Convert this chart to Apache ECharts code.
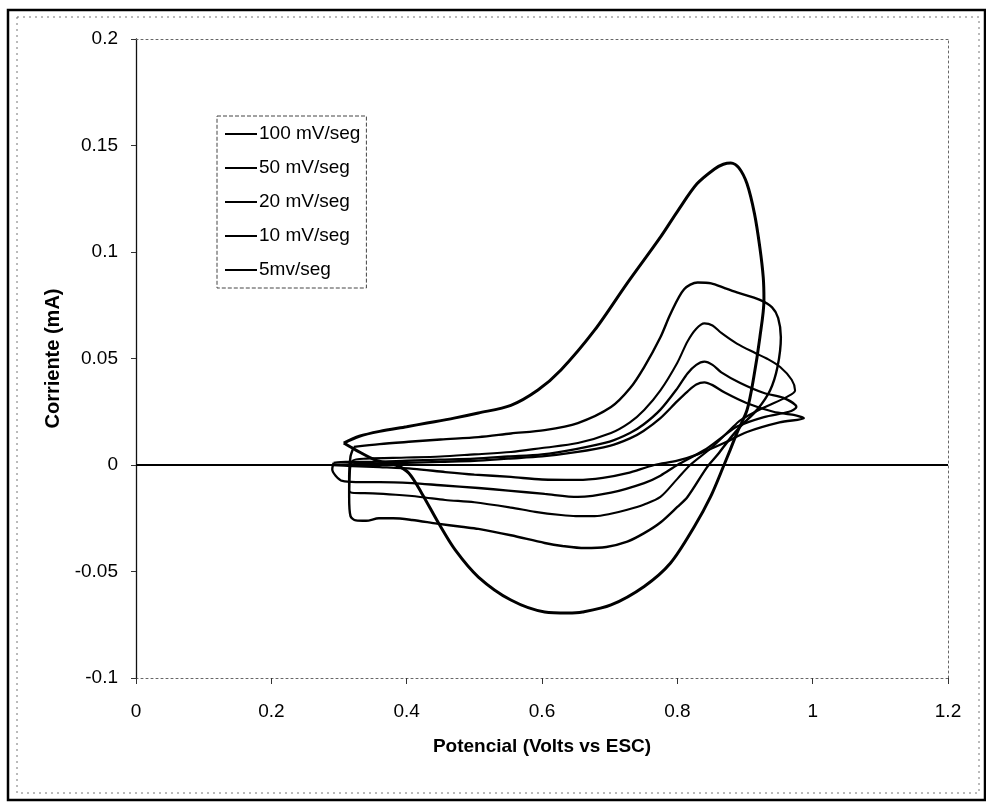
<!DOCTYPE html>
<html>
<head>
<meta charset="utf-8">
<title>Voltametría cíclica</title>
<script src="https://cdn.jsdelivr.net/npm/echarts@6/dist/echarts.min.js"></script>
<style>
  html, body { margin: 0; padding: 0; background: #fff; }
  #chart { width: 986px; height: 804px; }
</style>
</head>
<body>
<div id="chart"></div>
<script>
// Cyclic voltammograms at five scan rates: potential (V vs ESC) and current (mA)
const seriesNames = ['100 mV/seg', '50 mV/seg', '20 mV/seg', '10 mV/seg', '5mv/seg'];

const potential100 = [0.307, 0.33, 0.36, 0.40, 0.43, 0.47, 0.506, 0.554, 0.594, 0.628, 0.678, 0.726, 0.775, 0.80, 0.829, 0.855, 0.868, 0.879, 0.891, 0.903, 0.914, 0.922, 0.927, 0.928,
  0.922, 0.913, 0.903, 0.888, 0.878, 0.869, 0.849, 0.825, 0.79, 0.751, 0.702, 0.66, 0.638, 0.604, 0.554, 0.506, 0.472, 0.447, 0.422, 0.403, 0.384, 0.354, 0.325, 0.307];
const current100 = [0.0103, 0.0135, 0.0158, 0.018, 0.0197, 0.022, 0.0244, 0.028, 0.0352, 0.0446, 0.0634, 0.0854, 0.107, 0.119, 0.132, 0.139, 0.1412, 0.1418, 0.1395, 0.132, 0.118, 0.102, 0.088, 0.0775,
  0.060, 0.0413, 0.0258, 0.015, 0.007, 0.0, -0.015, -0.029, -0.046, -0.057, -0.0657, -0.069, -0.0695, -0.069, -0.0634, -0.0526, -0.040, -0.0272, -0.0131, -0.0038, 0.0, 0.0023, 0.007, 0.0103];

const potential50 = [0.322, 0.36, 0.408, 0.45, 0.506, 0.554, 0.604, 0.653, 0.702, 0.73, 0.751, 0.775, 0.79, 0.81, 0.83, 0.85, 0.87, 0.888, 0.922, 0.94, 0.949, 0.953, 0.948, 0.937, 0.918, 0.893, 0.878, 0.86, 0.844, 0.815, 0.80, 0.775, 0.751, 0.726, 0.695, 0.663, 0.63, 0.604, 0.554, 0.506, 0.481, 0.445, 0.408, 0.38, 0.359, 0.34, 0.325, 0.317, 0.315, 0.315, 0.317, 0.322];
const current50 = [0.0085, 0.0098, 0.011, 0.012, 0.0131, 0.0148, 0.0164, 0.0197, 0.0272, 0.036, 0.046, 0.060, 0.071, 0.0825, 0.0857, 0.0853, 0.083, 0.081, 0.0775, 0.074, 0.069, 0.060, 0.046, 0.035, 0.026, 0.018, 0.0125, 0.005, -0.001, -0.015, -0.0197, -0.027, -0.032, -0.036, -0.0385, -0.039, -0.038, -0.0366, -0.033, -0.030, -0.029, -0.0275, -0.0258, -0.025, -0.025, -0.0262, -0.026, -0.024, -0.015, -0.005, 0.004, 0.0085];

const potential20 = [0.316, 0.32, 0.34, 0.40, 0.45, 0.50, 0.554, 0.60, 0.653, 0.702, 0.73, 0.751, 0.775, 0.80, 0.815, 0.828, 0.84, 0.852, 0.865, 0.888, 0.915, 0.932, 0.952, 0.969, 0.974, 0.962, 0.928, 0.893, 0.878, 0.85, 0.819, 0.80, 0.775, 0.751, 0.726, 0.70, 0.678, 0.65, 0.628, 0.59, 0.554, 0.50, 0.457, 0.42, 0.384, 0.35, 0.319, 0.315, 0.316];
const current20 = [-0.004, 0.002, 0.003, 0.0035, 0.004, 0.005, 0.0061, 0.008, 0.0103, 0.015, 0.020, 0.0258, 0.035, 0.048, 0.058, 0.064, 0.0665, 0.0655, 0.062, 0.057, 0.0526, 0.050, 0.046, 0.040, 0.035, 0.032, 0.027, 0.021, 0.0165, 0.008, 0.0, -0.0065, -0.015, -0.0185, -0.021, -0.023, -0.024, -0.024, -0.0235, -0.022, -0.020, -0.0175, -0.0164, -0.015, -0.014, -0.0133, -0.013, -0.012, -0.004];

const potential10 = [0.292, 0.31, 0.35, 0.40, 0.45, 0.50, 0.55, 0.60, 0.65, 0.70, 0.73, 0.75, 0.775, 0.80, 0.815, 0.828, 0.84, 0.852, 0.865, 0.893, 0.928, 0.957, 0.976, 0.965, 0.928, 0.888, 0.87, 0.84, 0.80, 0.775, 0.751, 0.702, 0.653, 0.604, 0.55, 0.506, 0.45, 0.408, 0.36, 0.325, 0.305, 0.295, 0.29, 0.292];
const current10 = [0.001, 0.0015, 0.0015, 0.002, 0.0025, 0.003, 0.004, 0.005, 0.0075, 0.011, 0.015, 0.019, 0.026, 0.036, 0.043, 0.047, 0.0485, 0.047, 0.0435, 0.0385, 0.0338, 0.0315, 0.0272, 0.025, 0.0225, 0.018, 0.014, 0.007, 0.0, -0.005, -0.0085, -0.013, -0.015, -0.0136, -0.012, -0.0108, -0.0095, -0.0085, -0.008, -0.008, -0.0075, -0.005, -0.002, 0.001];

const potential5 = [0.29, 0.33, 0.40, 0.45, 0.50, 0.55, 0.60, 0.65, 0.70, 0.73, 0.75, 0.775, 0.80, 0.815, 0.828, 0.84, 0.852, 0.87, 0.903, 0.942, 0.972, 0.987, 0.951, 0.903, 0.869, 0.83, 0.80, 0.766, 0.726, 0.69, 0.653, 0.60, 0.554, 0.50, 0.457, 0.41, 0.36, 0.32, 0.29];
const current5 = [0.0, 0.0005, 0.001, 0.0015, 0.002, 0.003, 0.004, 0.006, 0.009, 0.0125, 0.016, 0.022, 0.030, 0.0345, 0.0378, 0.0388, 0.0375, 0.034, 0.029, 0.025, 0.0235, 0.022, 0.020, 0.0155, 0.0103, 0.005, 0.002, 0.0, -0.0038, -0.006, -0.007, -0.0068, -0.0056, -0.0045, -0.0033, -0.0018, -0.001, -0.0005, 0.0];

// Axis ranges and ticks
const xMin = 0, xMax = 1.2, xStep = 0.2;
const yMin = -0.1, yMax = 0.2, yStep = 0.05;

const FONT = "'Liberation Sans', Arial, sans-serif";

function zip(xs, ys) {
  return xs.map((x, i) => [x, ys[i]]);
}

const curves = [
  { name: seriesNames[0], x: potential100, y: current100, width: 3.0 },
  { name: seriesNames[1], x: potential50, y: current50, width: 2.4 },
  { name: seriesNames[2], x: potential20, y: current20, width: 2.1 },
  { name: seriesNames[3], x: potential10, y: current10, width: 2.3 },
  { name: seriesNames[4], x: potential5, y: current5, width: 2.3 }
];

const series = curves.map((c) => ({
  name: c.name,
  type: 'line',
  data: zip(c.x, c.y),
  symbol: 'none',
  smooth: 0.3,
  clip: true,
  color: '#000',
  lineStyle: { color: '#000', width: c.width },
  z: 3
}));

// horizontal reference line at zero current
series[0].markLine = {
  silent: true,
  symbol: 'none',
  label: { show: false },
  lineStyle: { color: '#000', width: 1.8, type: 'solid' },
  data: [{ yAxis: 0 }],
  animation: false
};

const chart = echarts.init(document.getElementById('chart'), null, { renderer: 'canvas' });

chart.setOption({
  animation: false,
  backgroundColor: '#fff',
  textStyle: { fontFamily: FONT },
  grid: { left: 136, right: 38, top: 39, bottom: 126, containLabel: false },
  graphic: [
    { type: 'rect', shape: { x: 8, y: 10, width: 977, height: 790 },
      style: { fill: 'none', stroke: '#000', lineWidth: 2.5 }, silent: true },
    { type: 'rect', shape: { x: 17, y: 17, width: 962, height: 776 },
      style: { fill: 'none', stroke: '#777', lineWidth: 1, lineDash: [2, 4] }, silent: true }
  ],
  legend: {
    orient: 'vertical',
    left: 217,
    top: 116,
    padding: [8, 6, 8, 8],
    icon: 'rect',
    itemWidth: 32,
    itemHeight: 2,
    itemGap: 14,
    borderColor: '#444',
    borderWidth: 1,
    borderType: 'dashed',
    backgroundColor: '#fff',
    data: seriesNames,
    itemStyle: { color: '#000' },
    textStyle: { fontSize: 19, color: '#000', fontFamily: FONT, lineHeight: 20, padding: [0, 0, 0, -3] }
  },
  xAxis: [
    {
      type: 'value', min: xMin, max: xMax, interval: xStep,
      name: 'Potencial (Volts vs ESC)',
      nameLocation: 'middle',
      nameGap: 59,
      nameTextStyle: { fontSize: 19, fontWeight: 'bold', color: '#000', fontFamily: FONT },
      axisLine: { onZero: false, lineStyle: { color: '#666', width: 1, type: [2, 3] } },
      axisTick: { show: true, inside: false, length: 6, lineStyle: { color: '#333' } },
      axisLabel: { fontSize: 19, color: '#000', margin: 24, fontFamily: FONT },
      splitLine: { show: false }
    },
    {
      type: 'value', min: xMin, max: xMax, position: 'top',
      axisLine: { onZero: false, lineStyle: { color: '#666', width: 1, type: [2, 3] } },
      axisTick: { show: false }, axisLabel: { show: false }, splitLine: { show: false }
    }
  ],
  yAxis: [
    {
      type: 'value', min: yMin, max: yMax, interval: yStep,
      name: 'Corriente (mA)',
      nameLocation: 'middle',
      nameGap: 72,
      nameTextStyle: { fontSize: 20, fontWeight: 'bold', color: '#000', fontFamily: FONT },
      axisLine: { show: true, onZero: false, lineStyle: { color: '#111', width: 1.3 } },
      axisTick: { show: true, inside: false, length: 5, lineStyle: { color: '#333' } },
      axisLabel: { fontSize: 19, color: '#000', margin: 18, fontFamily: FONT },
      splitLine: { show: false }
    },
    {
      type: 'value', min: yMin, max: yMax, position: 'right',
      axisLine: { show: true, onZero: false, lineStyle: { color: '#666', width: 1, type: [2, 3] } },
      axisTick: { show: false }, axisLabel: { show: false }, splitLine: { show: false }
    }
  ],
  series: series
});
</script>
</body>
</html>
